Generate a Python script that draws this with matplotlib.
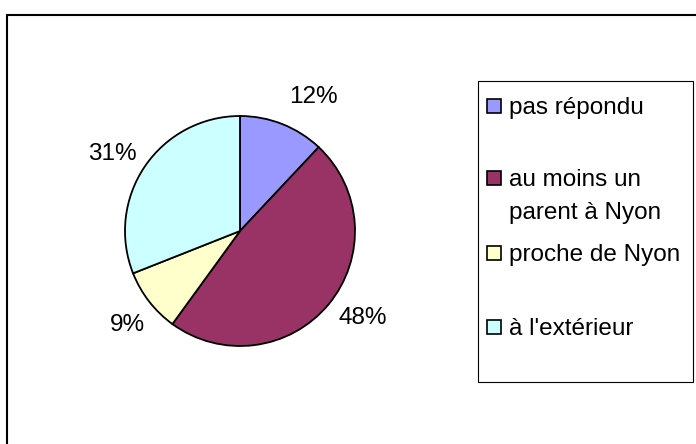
import numpy as np
import matplotlib
matplotlib.use('Agg')
import matplotlib.pyplot as plt
from matplotlib.patches import Rectangle

# data
categories = ['pas répondu', 'au moins un\nparent à Nyon', 'proche de Nyon', "à l'extérieur"]
shares = [12, 48, 9, 31]
colors = ['#9999FF', '#993366', '#FFFFCC', '#CCFFFF']

W, H = 696, 444
plt.rcParams['font.family'] = ['Liberation Sans', 'DejaVu Sans']
FS = 17.5
LINE_PX = 33

fig = plt.figure(figsize=(W / 100, H / 100), dpi=100)
fig.patch.set_facecolor('white')


def fx(x):
    return x / W


def fy(y):
    return 1 - y / H


# pie: centre (240, 231) px, radius 115 px
cx, cy, r = 240, 231, 115
ax = fig.add_axes([fx(cx - r), fy(cy + r), 2 * r / W, 2 * r / H])
wedges, _ = ax.pie(shares, colors=colors, startangle=90, counterclock=False,
                   wedgeprops=dict(edgecolor='black', linewidth=1.3))
for w in wedges:
    w.set_clip_on(False)
ax.set_xlim(-1, 1)
ax.set_ylim(-1, 1)
ax.set_aspect('equal')
ax.axis('off')

# percentage labels outside the pie, nudged like the original
nudges = [(18, -5), (8, 8), (6, -2), (-4, -7)]
for w, s, (dx, dy) in zip(wedges, shares, nudges):
    ang = np.deg2rad((w.theta1 + w.theta2) / 2)
    ax.annotate(f'{s}%', (1.3 * np.cos(ang), 1.3 * np.sin(ang)),
                xytext=(dx, dy), textcoords='offset pixels',
                ha='center', va='center', fontsize=FS, annotation_clip=False)

# legend box
fig.patches.append(Rectangle((fx(478), fy(382)), fx(693) - fx(478), fy(81) - fy(382),
                             transform=fig.transFigure, fill=False,
                             edgecolor='black', linewidth=0.8))
baselines = [114, 186, 261, 335]
for name, col, b in zip(categories, colors, baselines):
    fig.patches.append(Rectangle((fx(487), fy(b - 1)), 14 / W, 14 / H,
                                 transform=fig.transFigure, facecolor=col,
                                 edgecolor='black', linewidth=1.2))
    for i, line in enumerate(name.split('\n')):
        fig.text(fx(509), fy(b + i * LINE_PX), line, ha='left', va='baseline',
                 fontsize=FS)

# outer chart frame (runs off the right and bottom edges)
fig.patches.append(Rectangle((fx(6.5), fy(H + 10)), fx(W + 10) - fx(6.5), fy(15) - fy(H + 10),
                             transform=fig.transFigure, fill=False,
                             edgecolor='black', linewidth=1.5))

fig.savefig('out.png', dpi=100)
